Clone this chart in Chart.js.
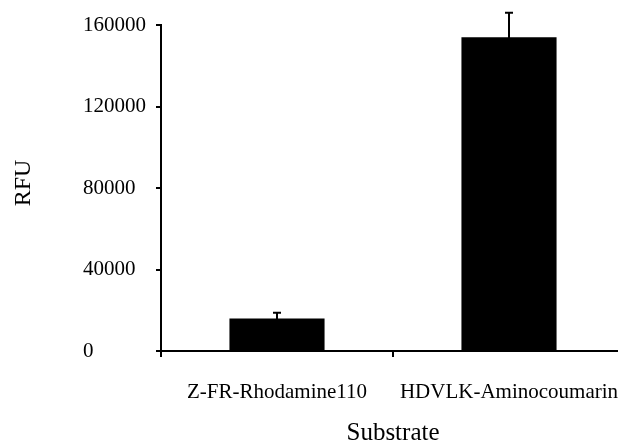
<!DOCTYPE html>
<html>
<head>
<meta charset="utf-8">
<script src="https://cdn.jsdelivr.net/npm/chart.js@4/dist/chart.umd.min.js"></script>
<style>
  html, body { margin: 0; padding: 0; background: #fff; overflow: hidden; }
  #wrap { width: 618px; height: 443px; overflow: hidden; }
</style>
</head>
<body>
<div id="wrap"><canvas id="rfu" width="625" height="443"></canvas></div>
<script>
let substrates = ["Z-FR-Rhodamine110", "HDVLK-Aminocoumarin"];
let rfuValues = [16000, 154000];
let rfuErrors = [2800, 12000];
let yTicks = [0, 40000, 80000, 120000, 160000];

let serif = "'Liberation Serif', 'Times New Roman', serif";

// error bars + rotated y title
let extras = {
  id: "extras",
  afterDatasetsDraw: (chart) => {
    let c = chart.ctx;
    let y = chart.scales.y;
    let meta = chart.getDatasetMeta(0);
    c.save();
    c.strokeStyle = "#000";
    c.lineWidth = 2;
    meta.data.forEach((bar, i) => {
      let top = y.getPixelForValue(rfuValues[i] + rfuErrors[i]);
      let bot = y.getPixelForValue(rfuValues[i] - rfuErrors[i]);
      c.beginPath();
      c.moveTo(bar.x, top);
      c.lineTo(bar.x, bot);
      c.moveTo(bar.x - 4, top);
      c.lineTo(bar.x + 4, top);
      c.stroke();
    });
    c.restore();
  },
  afterDraw: (chart) => {
    let c = chart.ctx;
    c.save();
    c.translate(24, 183);
    c.rotate(-Math.PI / 2);
    c.font = "24px " + serif;
    c.fillStyle = "#000";
    c.textAlign = "center";
    c.textBaseline = "middle";
    c.fillText("RFU", 0, 0);
    c.restore();
  },
};

let rfu = new Chart(document.getElementById("rfu").getContext("2d"), {
  type: "bar",
  data: {
    labels: substrates,
    datasets: [
      {
        data: rfuValues,
        backgroundColor: "#000",
        borderWidth: 0,
        categoryPercentage: 1,
        barPercentage: 0.41,
      },
    ],
  },
  options: {
    responsive: false,
    animation: false,
    layout: {
      padding: { left: 83, top: 25, right: 0, bottom: 0 },
    },
    plugins: {
      legend: { display: false },
      tooltip: { enabled: false },
    },
    scales: {
      x: {
        grid: {
          display: true,
          drawOnChartArea: false,
          drawTicks: true,
          tickLength: 6,
          color: "#000",
          lineWidth: 2,
        },
        border: { display: true, color: "#000", width: 2 },
        ticks: {
          color: "#000",
          padding: 23,
          maxRotation: 0,
          autoSkip: false,
          font: { family: serif, size: 21 },
        },
        title: {
          display: true,
          text: "Substrate",
          color: "#000",
          padding: { top: 0, bottom: 0 },
          font: { family: serif, size: 25, lineHeight: 0.8 },
        },
        afterFit: (scale) => {
          scale.height = 92;
          scale.paddingLeft = 0;
          scale.paddingRight = 0;
        },
      },
      y: {
        min: 0,
        max: 160000,
        afterBuildTicks: (scale) => {
          scale.ticks = yTicks.map((v) => ({ value: v }));
        },
        grid: {
          display: true,
          drawOnChartArea: false,
          drawTicks: true,
          tickLength: 5,
          color: "#000",
          lineWidth: 2,
        },
        border: { display: true, color: "#000", width: 2 },
        ticks: {
          color: "#000",
          crossAlign: "far",
          padding: 9,
          font: { family: serif, size: 21 },
          callback: (v) => String(v),
        },
        afterFit: (scale) => {
          scale.width = 78;
        },
      },
    },
  },
  plugins: [extras],
});
</script>
</body>
</html>
